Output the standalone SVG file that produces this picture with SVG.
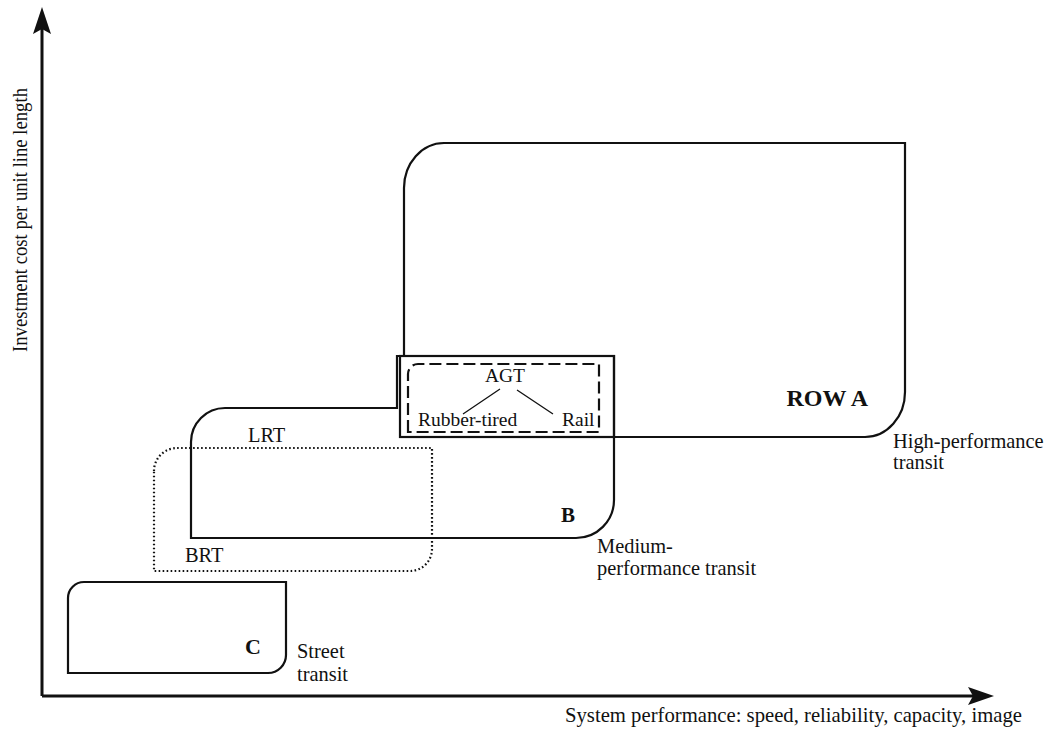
<svg xmlns="http://www.w3.org/2000/svg" width="1058" height="733" viewBox="0 0 1058 733">
<style>
.box{fill:none;stroke:#111;stroke-width:2.2}
.axis{fill:none;stroke:#111;stroke-width:3}
.t{font-family:"Liberation Serif","Times New Roman",serif;font-size:20.4px;fill:#111}
.b{font-weight:bold}
.c{text-anchor:middle}
.s{font-size:19.5px}
</style>
<rect width="1058" height="733" fill="#fff"/>
<g id="axes">
<path class="axis" d="M42 696 L42 26 M42 696 L975 696"/>
<path d="M42 7 L51 34 L42 29 L33 34 Z" fill="#111"/>
<path d="M994 696 L968 705 L973 696 L968 687 Z" fill="#111"/>
<text class="t" transform="translate(27,352) rotate(-90)" textLength="264" lengthAdjust="spacingAndGlyphs">Investment cost per unit line length</text>
<text class="t" x="565" y="722" textLength="457" lengthAdjust="spacingAndGlyphs">System performance: speed, reliability, capacity, image</text>
</g>
<g id="nodeA">
<path class="box" d="M404 356 L404 188 A40 45 0 0 1 444 143 L905 143 L905 392 A40 45 0 0 1 865 437 L614 437"/>
<text class="t b" x="868" y="406" style="font-size:24px" text-anchor="end">ROW A</text>
<text class="t" x="893" y="448">High-performance</text>
<text class="t" x="893" y="469">transit</text>
</g>
<g id="nodeB">
<path class="box" d="M614 356 L397 356 L397 408 L225 408 A34 34 0 0 0 191 442 L191 538 L576 538 A38 38 0 0 0 614 500 Z"/>
<text class="t b c" x="568" y="522" style="font-size:21px">B</text>
<text class="t" x="597" y="553">Medium-</text>
<text class="t" x="597" y="575">performance transit</text>
<text class="t" x="248" y="442">LRT</text>
</g>
<g id="nodeBRT">
<path class="box" d="M154 471 A23 23 0 0 1 177 448 L432 448 L432 549 A22 22 0 0 1 410 571 L154 571 Z" stroke-width="1.8" stroke-dasharray="1.6 2.4"/>
<text class="t" x="185" y="562">BRT</text>
</g>
<g id="nodeC">
<path class="box" d="M68 598 A16 16 0 0 1 84 582 L286 582 L286 655 A18 18 0 0 1 268 673 L68 673 Z"/>
<text class="t b c" x="253" y="654" style="font-size:22px">C</text>
<text class="t" x="297" y="658">Street</text>
<text class="t" x="297" y="681">transit</text>
</g>
<g id="nodeAGT">
<rect class="box" x="400" y="356" width="214" height="81"/>
<path class="box" d="M408 432 L408 374 A10 10 0 0 1 418 364 L599 364 L599 432 Z" stroke-dasharray="12 5"/>
<text class="t s c" x="505" y="382">AGT</text>
<text class="t s" x="418" y="426">Rubber-tired</text>
<text class="t s" x="562" y="426">Rail</text>
</g>
<g id="connectors">
<path d="M500 389 L463 414 M517 390 L553 414" fill="none" stroke="#111" stroke-width="1.3"/>
</g>
</svg>
